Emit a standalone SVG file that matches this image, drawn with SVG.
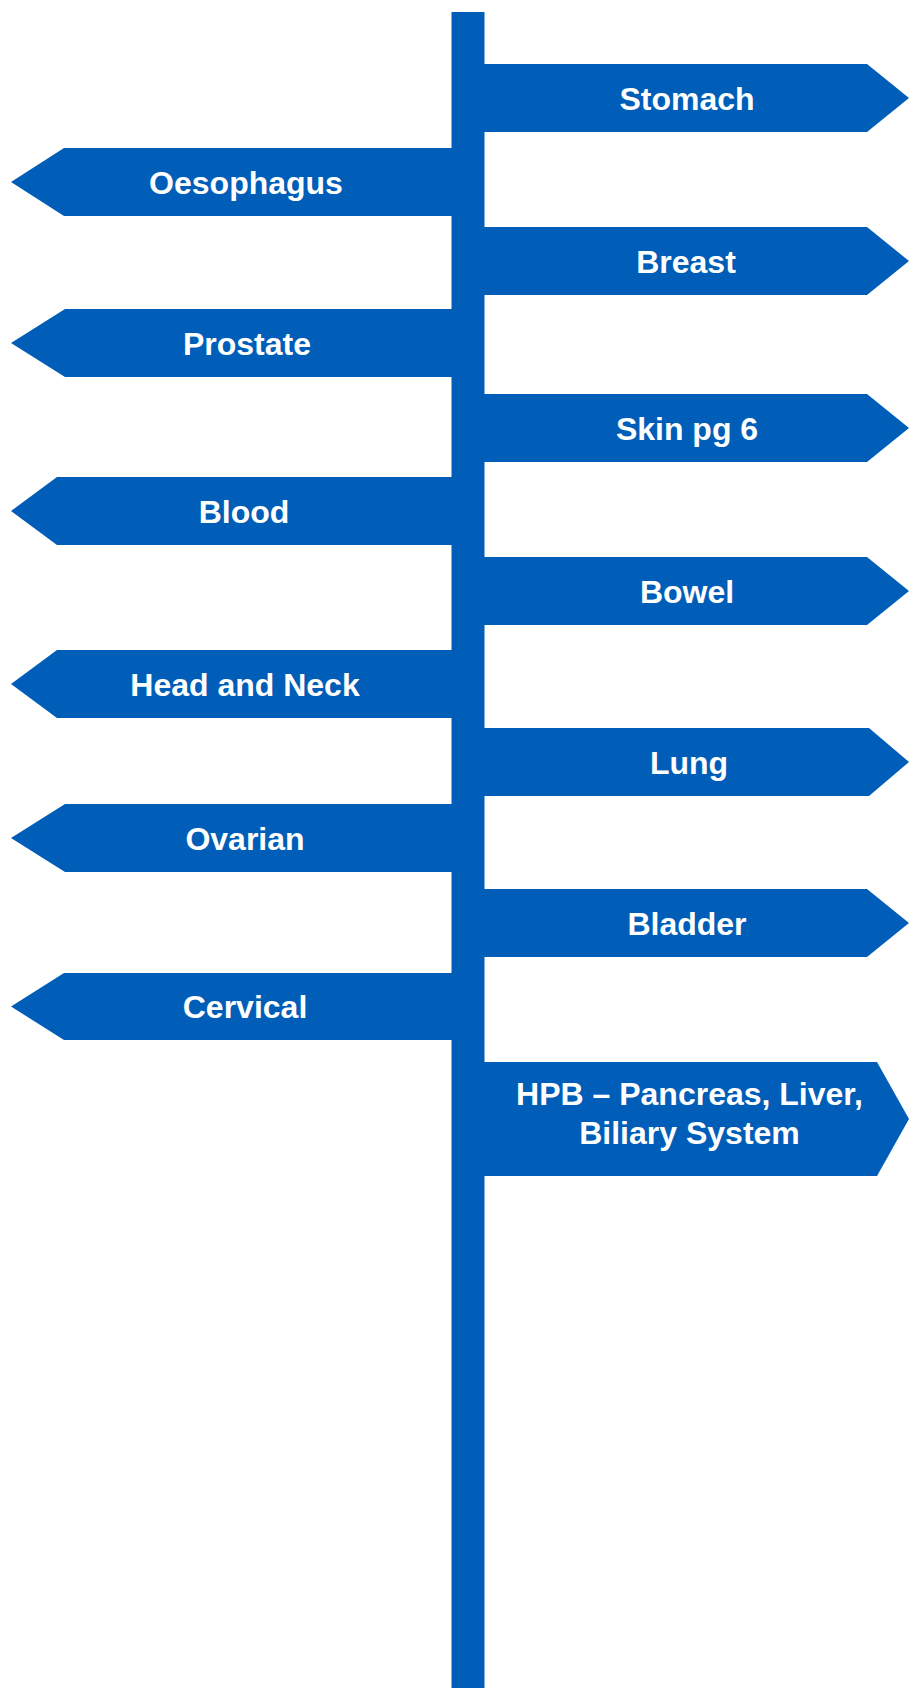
<svg xmlns="http://www.w3.org/2000/svg" width="909" height="1688" viewBox="0 0 909 1688">
<style>
.s{fill:#005EB8}
.t{fill:#fff;font-family:"Liberation Sans",Arial,sans-serif;font-weight:bold;font-size:32px;text-anchor:middle}
</style>
<rect width="909" height="1688" fill="#fff"/>
<g id="pole"><rect class="s" x="451.5" y="12" width="33" height="1676"/></g>
<g id="connectors"></g>
<g id="stomach"><polygon class="s" points="483,64 867,64 909,98 867,132 483,132"/><text class="t" x="687" y="110">Stomach</text></g>
<g id="oesophagus"><polygon class="s" points="453,148 64,148 11,182 64,216 453,216"/><text class="t" x="246" y="194">Oesophagus</text></g>
<g id="breast"><polygon class="s" points="483,227 867,227 909,261 867,295 483,295"/><text class="t" x="686" y="273">Breast</text></g>
<g id="prostate"><polygon class="s" points="453,309 65,309 11,343 65,377 453,377"/><text class="t" x="247" y="355">Prostate</text></g>
<g id="skin"><polygon class="s" points="483,394 867,394 909,428 867,462 483,462"/><text class="t" x="687" y="440">Skin pg 6</text></g>
<g id="blood"><polygon class="s" points="453,477 57,477 11,511 57,545 453,545"/><text class="t" x="244" y="523">Blood</text></g>
<g id="bowel"><polygon class="s" points="483,557 867,557 909,591 867,625 483,625"/><text class="t" x="687" y="603">Bowel</text></g>
<g id="headneck"><polygon class="s" points="453,650 57,650 11,684 57,718 453,718"/><text class="t" x="245" y="696">Head and Neck</text></g>
<g id="lung"><polygon class="s" points="483,728 869,728 909,762 869,796 483,796"/><text class="t" x="689" y="774">Lung</text></g>
<g id="ovarian"><polygon class="s" points="453,804 65,804 11,838 65,872 453,872"/><text class="t" x="245" y="850">Ovarian</text></g>
<g id="bladder"><polygon class="s" points="483,889 867,889 909,923 867,957 483,957"/><text class="t" x="687" y="935">Bladder</text></g>
<g id="cervical"><polygon class="s" points="453,973 64,973 11,1006.5 64,1040 453,1040"/><text class="t" x="245" y="1018">Cervical</text></g>
<g id="hpb"><polygon class="s" points="483,1062 877,1062 909,1119 877,1176 483,1176"/><text class="t" x="689.5" y="1105">HPB – Pancreas, Liver,</text><text class="t" x="689.5" y="1143.5">Biliary System</text></g>
</svg>
